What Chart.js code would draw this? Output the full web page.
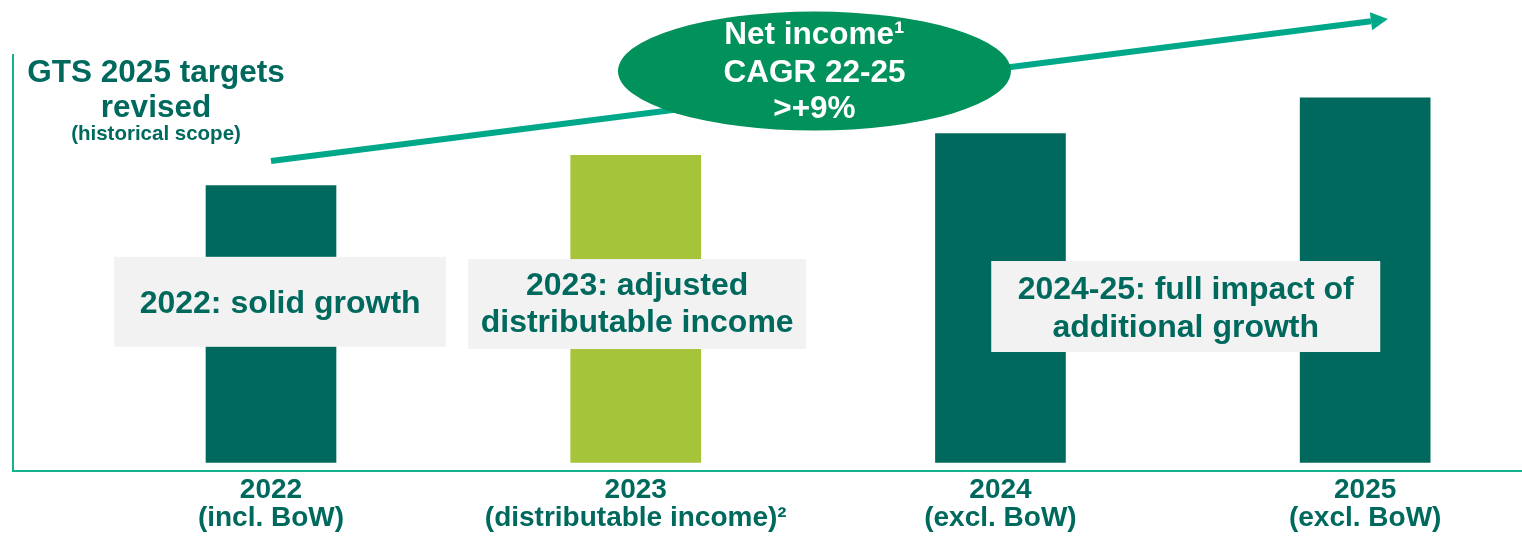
<!DOCTYPE html>
<html>
<head>
<meta charset="utf-8">
<script src="https://cdn.jsdelivr.net/npm/chart.js@4.4.0/dist/chart.umd.min.js"></script>
<style>
  html, body { margin: 0; padding: 0; background: #fff; overflow: hidden; }
  #wrap { width: 1522px; height: 538px; }
</style>
</head>
<body>
<div id="wrap"><canvas id="gtsChart"></canvas></div>
<script>
// data (2022 = 100)
const years = ["2022", "2023", "2024", "2025"];
const scopes = ["(incl. BoW)", "(distributable income)²", "(excl. BoW)", "(excl. BoW)"];
const netIncome = [100, 110.9, 118.7, 131.6];
const trendX = [0, 3.016];
const trendY = [108.8, 159.3];
const titleLines = ["GTS 2025 targets", "revised"];
const titleNote = "(historical scope)";
const bubbleLines = ["Net income¹", "CAGR 22-25", ">+9%"];
const noteLines = [
  ["2022: solid growth"],
  ["2023: adjusted", "distributable income"],
  ["2024-25: full impact of", "additional growth"]
];

const DARK = "#00695e";
const LIGHT = "#a6c43a";
const AXIS = "#14b28f";
const ARROW = "#00a88a";
const BUBBLE = "#01915b";
const BOX = "#f2f2f2";
const FONT = "'Liberation Sans', Arial, sans-serif";

Chart.defaults.font.family = FONT;

function drawLines(ctx, lines, x, baselines) {
  lines.forEach((line, i) => ctx.fillText(line, x, baselines[i]));
}

const decorations = {
  id: "decorations",
  afterDatasetsDraw(chart) {
    const ctx = chart.ctx;
    const xs = chart.scales.x;
    const ys = chart.scales.y;
    ctx.save();

    // arrow head at the end of the trend line
    const pts = chart.getDatasetMeta(1).data;
    const p0 = pts[0], p1 = pts[1];
    const dx = p1.x - p0.x, dy = p1.y - p0.y;
    const len = Math.sqrt(dx * dx + dy * dy);
    const ux = dx / len, uy = dy / len;
    ctx.fillStyle = ARROW;
    ctx.beginPath();
    ctx.moveTo(p1.x + ux * 17, p1.y + uy * 17);
    ctx.lineTo(p1.x - uy * 9, p1.y + ux * 9);
    ctx.lineTo(p1.x + uy * 9, p1.y - ux * 9);
    ctx.closePath();
    ctx.fill();

    // grey note boxes over the bars
    const boxes = [
      { x: 0.025, y: 58, w: 332, h: 90, base: [313] },
      { x: 1.004, y: 57.2, w: 338, h: 90, base: [295, 332] },
      { x: 2.508, y: 56.3, w: 389, h: 91, base: [299, 337] }
    ];
    ctx.textAlign = "center";
    ctx.textBaseline = "alphabetic";
    boxes.forEach((b, i) => {
      const cx = xs.getPixelForValue(b.x);
      const cy = ys.getPixelForValue(b.y);
      ctx.fillStyle = BOX;
      ctx.fillRect(cx - b.w / 2, cy - b.h / 2, b.w, b.h);
      ctx.fillStyle = DARK;
      ctx.font = "bold 32px " + FONT;
      drawLines(ctx, noteLines[i], cx, b.base);
    });

    // CAGR bubble
    const ex = xs.getPixelForValue(1.49);
    const ey = ys.getPixelForValue(141.3);
    ctx.fillStyle = BUBBLE;
    ctx.beginPath();
    ctx.ellipse(ex, ey, 196.5, 59.5, 0, 0, Math.PI * 2);
    ctx.fill();
    ctx.fillStyle = "#ffffff";
    ctx.font = "bold 31.5px " + FONT;
    drawLines(ctx, bubbleLines, ex, [44, 82, 118]);

    // title block, top left
    ctx.fillStyle = DARK;
    ctx.font = "bold 31.5px " + FONT;
    drawLines(ctx, titleLines, 156, [82, 117]);
    ctx.font = "bold 20.5px " + FONT;
    ctx.fillText(titleNote, 156, 140);
    ctx.restore();
  }
};

new Chart(document.getElementById("gtsChart"), {
  type: "bar",
  data: {
    datasets: [
      {
        data: years.map((y, i) => ({ x: i, y: netIncome[i] })),
        backgroundColor: [DARK, LIGHT, DARK, DARK],
        borderWidth: 0,
        barThickness: 130,
        order: 2
      },
      {
        type: "line",
        data: trendX.map((x, i) => ({ x: x, y: trendY[i] })),
        borderColor: ARROW,
        borderWidth: 6,
        borderCapStyle: "butt",
        pointRadius: 0,
        clip: false,
        order: 1
      }
    ]
  },
  plugins: [decorations],
  options: {
    responsive: true,
    maintainAspectRatio: false,
    animation: false,
    layout: { padding: { left: 13, top: 55, right: 0, bottom: 0 } },
    plugins: {
      legend: { display: false },
      tooltip: { enabled: false }
    },
    scales: {
      x: {
        type: "linear",
        min: -0.7074,
        max: 3.43,
        bounds: "data",
        offset: false,
        afterBuildTicks: (scale) => {
          scale.ticks = years.map((y, i) => ({ value: i }));
        },
        grid: { display: false, drawTicks: false },
        border: { display: true, color: AXIS, width: 2 },
        ticks: {
          autoSkip: false,
          maxRotation: 0,
          padding: 5.5,
          color: DARK,
          font: { size: 28, weight: "bold", lineHeight: 1.0 },
          callback: function (value) {
            return [years[value], scopes[value]];
          }
        }
      },
      y: {
        type: "linear",
        min: -3.08,
        max: 147.1,
        bounds: "data",
        grid: { display: false, drawTicks: false },
        border: { display: true, color: AXIS, width: 2 },
        ticks: { display: false }
      }
    }
  }
});
</script>
</body>
</html>
